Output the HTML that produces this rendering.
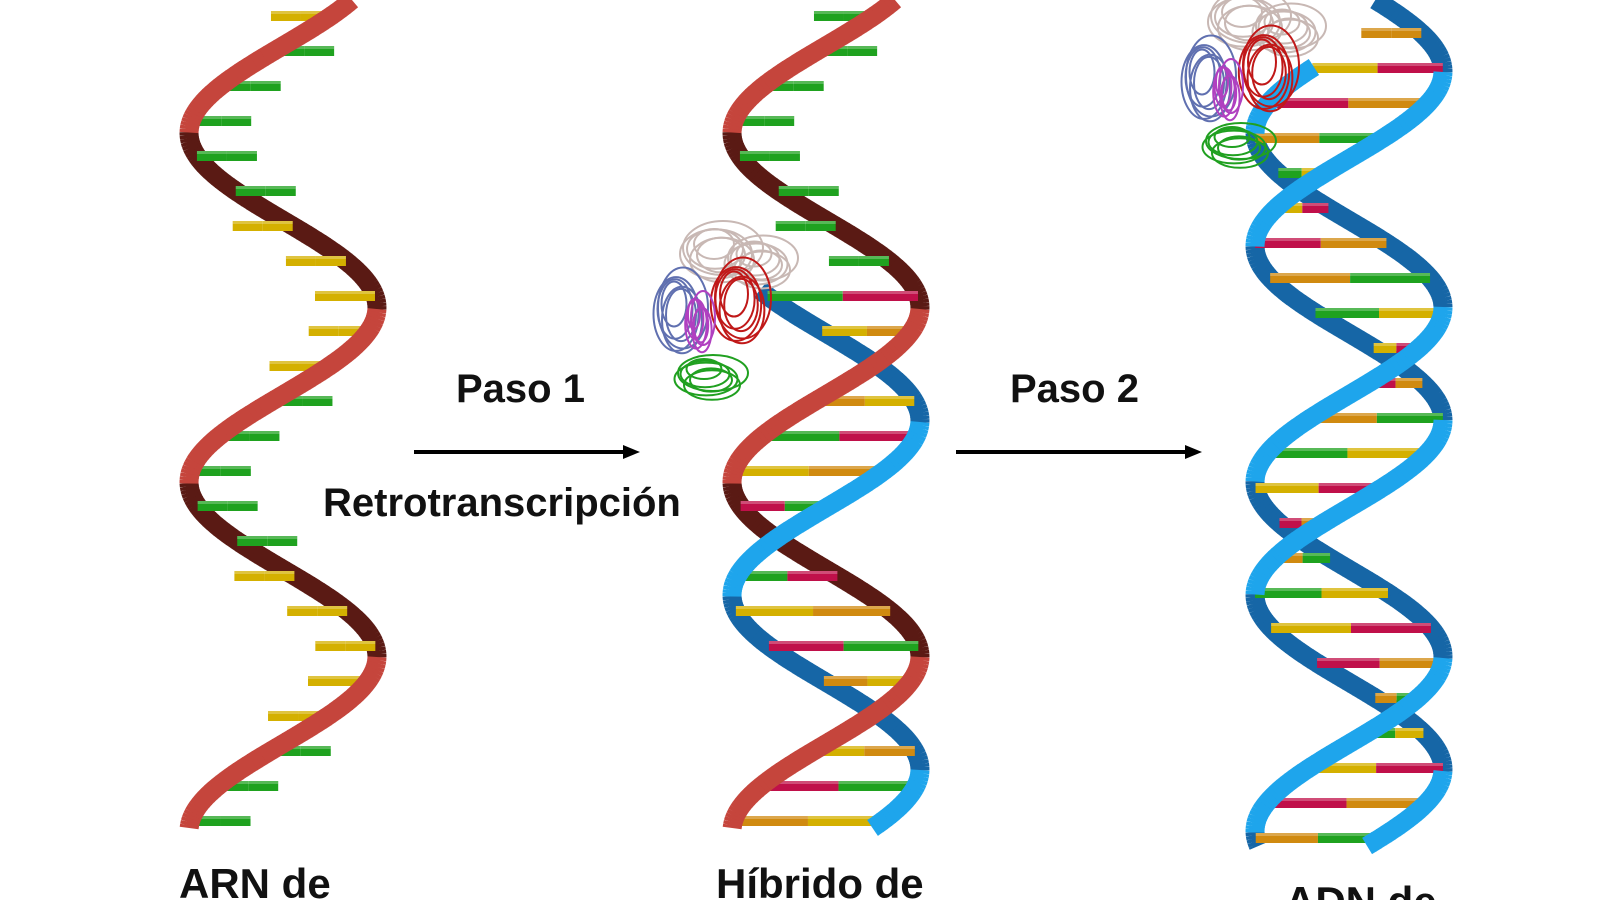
<!DOCTYPE html>
<html><head><meta charset="utf-8"><style>
html,body{margin:0;padding:0;background:#fff;}
#w{position:relative;width:1600px;height:900px;overflow:hidden;background:#fff;font-family:"Liberation Sans",sans-serif;font-weight:bold;color:#111;}
.t{position:absolute;white-space:nowrap;line-height:1;}
</style></head><body><div id="w">
<svg id="s" width="1600" height="900" style="position:absolute;left:0;top:0"></svg>
<div class="t" style="left:456px;top:369px;font-size:40px">Paso 1</div>
<div class="t" style="left:323px;top:483px;font-size:40px">Retrotranscripción</div>
<div class="t" style="left:1010px;top:369px;font-size:40px">Paso 2</div>
<div class="t" style="left:179px;top:863px;font-size:42px">ARN de</div>
<div class="t" style="left:716px;top:863px;font-size:42px">Híbrido de</div>
<div class="t" style="left:1285px;top:881px;font-size:42px">ADN de</div>
</div>
<script>
var NS="http://www.w3.org/2000/svg",S=document.getElementById('s');
function el(t,a){var e=document.createElementNS(NS,t);for(var k in a)e.setAttribute(k,a[k]);S.appendChild(e);return e;}
var P=349,A=94;
function sx(c,y0,y){return c-A*Math.cos(2*Math.PI*(y-y0)/P);}
function dir(y0,y){return Math.sin(2*Math.PI*(y-y0)/P);}
function ribbon(c,y0,ya,yb,front,back,pass){
 for(var y=ya;y<yb;y+=3){var d=dir(y0,y+1.5);var isBack=d>0;
  if((pass==0&&isBack)||(pass==1&&!isBack)){
   el('line',{x1:sx(c,y0,y),y1:y,x2:sx(c,y0,Math.min(y+3.5,yb)),y2:Math.min(y+3.5,yb),stroke:isBack?back:front,'stroke-width':19,'stroke-linecap':'butt'});}}
}
function bar(x1,x2,y,c1,c2){var a=Math.min(x1,x2),b=Math.max(x1,x2),m=(a+b)/2;
 el('rect',{x:a,y:y-5,width:m-a,height:10,fill:c1});el('rect',{x:m,y:y-5,width:b-m,height:10,fill:c2});
 el('rect',{x:a,y:y-5,width:b-a,height:3,fill:'#fff',opacity:0.25});}
var cols=['#1fa21f','#d4b000','#c0104a','#d08a10'];
function arrow(x1,x2,y){el('line',{x1:x1,y1:y,x2:x2-12,y2:y,stroke:'#000','stroke-width':4});
 el('polygon',{points:(x2)+','+y+' '+(x2-17)+','+(y-7)+' '+(x2-17)+','+(y+7),fill:'#000'});}
arrow(414,640,452);arrow(956,1202,452);
var R1='#c5453c',R2='#5a1a14',B1='#1ea5ec',B2='#1666a6';
var yb=828;
// RNA
var c1=283;
ribbon(c1,133,0,yb,R1,R2,0);
for(var y=16;y<yb-5;y+=35){var x=sx(c1,133,y);var dd=x<c1?1:-1;
 bar(x,x+dd*60,y,dd>0?'#1fa21f':'#d4b000',dd>0?'#1fa21f':'#d4b000');}
ribbon(c1,133,0,yb,R1,R2,1);
// Hybrid
var c2=826;
ribbon(c2,133,0,yb,R1,R2,0);ribbon(c2,246,290,yb,B1,B2,0);
for(var y=16;y<yb-5;y+=35){var x=sx(c2,133,y);var i=Math.floor(y/35);
 if(y<290){var dd=x<c2?1:-1;bar(x,x+dd*60,y,'#1fa21f','#1fa21f');}
 else{var x2=sx(c2,246,y);bar(x,x2,y,cols[i%4],cols[(i+2)%4]);}}
ribbon(c2,133,0,yb,R1,R2,1);ribbon(c2,246,290,yb,B1,B2,1);
// DNA
var c3=1349,yd=846;
ribbon(c3,246,0,yd,B1,B2,0);ribbon(c3,133,67,yd,B1,B2,0);
for(var y=33;y<yd-5;y+=35){var x=sx(c3,246,y),x2=sx(c3,133,y);var i=Math.floor(y/35);
 if(y<67){bar(x,x-60,y,'#d08a10','#d08a10');}else bar(x,x2,y,cols[i%4],cols[(i+1)%4]);}
ribbon(c3,246,0,yd,B1,B2,1);ribbon(c3,133,67,yd,B1,B2,1);
// proteins
function prot(ox,oy){
 var g=[['#c8b8b4',60,20,40,30],['#c8b8b4',100,30,35,25],['#c01818',80,70,28,45],['#6070b0',20,80,25,45],['#b040c0',40,90,12,30],['#20a020',50,145,35,20]];
 g.forEach(function(p){for(var k=0;k<6;k++){el('ellipse',{cx:ox+p[1]+(k*7%13-6),cy:oy+p[2]+(k*11%17-8),rx:p[3]*(0.5+k*0.1),ry:p[4]*(0.5+k*0.08),fill:'none',stroke:p[0],'stroke-width':2});}});}
prot(660,232);prot(1188,0);
</script>
</body></html>
